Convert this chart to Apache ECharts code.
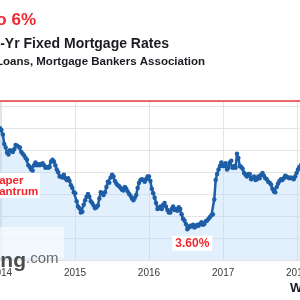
<!DOCTYPE html>
<html>
<head>
<meta charset="utf-8">
<script src="https://cdn.jsdelivr.net/npm/echarts@6/dist/echarts.min.js"></script>
<style>
  html, body { margin: 0; padding: 0; background: #fff; }
  #chart { width: 300px; height: 300px; }
</style>
</head>
<body>
<div id="chart"></div>
<script>
// weekly 30-yr fixed rates (%), one value per week starting 2013-12-27
var firstWeek = Date.UTC(2013, 11, 27);
var rates2013 = [4.75];
var rates2014 = [
  4.73, 4.68, 4.57, 4.53, 4.47,
  4.45, 4.50, 4.49, 4.48,
  4.51, 4.56, 4.55, 4.54,
  4.53, 4.48, 4.46, 4.44,
  4.41, 4.39, 4.33, 4.31, 4.28,
  4.27, 4.33, 4.36, 4.33,
  4.34, 4.33, 4.34, 4.35,
  4.33, 4.30, 4.31, 4.30, 4.31,
  4.37, 4.39, 4.37, 4.33,
  4.28, 4.25, 4.20, 4.20, 4.19,
  4.22, 4.18, 4.16, 4.18,
  4.15, 4.10, 4.07, 4.02
];
var rates2015 = [
  4.01, 3.92, 3.86, 3.84, 3.79,
  3.80, 3.88, 3.93, 3.97,
  4.00, 3.97, 3.92, 3.90,
  3.87, 3.84, 3.85, 3.87,
  3.95, 4.02, 4.01, 3.99, 4.02,
  4.08, 4.14, 4.13, 4.19,
  4.22, 4.20, 4.15, 4.12, 4.10,
  4.09, 4.07, 4.05, 4.04,
  4.08, 4.06, 4.03, 4.00,
  3.98, 3.95, 3.93, 3.96, 3.99,
  4.07, 4.13, 4.16, 4.17,
  4.16, 4.14, 4.17, 4.20
];
var rates2016 = [
  4.20, 4.15, 4.06, 4.01, 3.96,
  3.90, 3.83, 3.84, 3.86,
  3.83, 3.88, 3.90, 3.86,
  3.82, 3.79, 3.79, 3.83, 3.86,
  3.82, 3.83, 3.81, 3.85,
  3.83, 3.77, 3.72, 3.70,
  3.66, 3.60, 3.62, 3.64, 3.63,
  3.65, 3.62, 3.63, 3.65,
  3.64, 3.66, 3.68, 3.65, 3.66,
  3.69, 3.70, 3.72, 3.74,
  3.76, 3.77, 3.94, 4.16,
  4.23, 4.28, 4.32, 4.36, 4.32
];
var rates2017 = [
  4.32, 4.35, 4.28, 4.30,
  4.36, 4.38, 4.30, 4.32,
  4.30, 4.46, 4.41, 4.32, 4.31,
  4.29, 4.24, 4.22, 4.20,
  4.23, 4.23, 4.17, 4.19,
  4.20, 4.16, 4.17, 4.20, 4.18,
  4.22, 4.24, 4.21, 4.18,
  4.17, 4.14, 4.13, 4.11,
  4.06, 4.03, 4.02, 4.08, 4.12,
  4.15, 4.17, 4.16, 4.18,
  4.21, 4.20, 4.19, 4.18,
  4.19, 4.18, 4.17, 4.20, 4.24
];
var rates2018 = [4.28, 4.31, 4.35];

var yMin = 3.25;
var yTop = 5.06;   // red line at the top of the plot
var lowText = '3.60%';
var taperText = 'Taper\nTantrum';

var rates = [].concat(rates2013, rates2014, rates2015, rates2016, rates2017, rates2018);
var seriesData = [];
for (var i = 0; i < rates.length; i++) {
  seriesData.push([firstWeek + i * 7 * 86400000, rates[i]]);
}

var chart = echarts.init(document.getElementById('chart'));

var option = {
  animation: false,
  grid: { left: 0, right: 0, top: 101, bottom: 40, containLabel: false, outerBoundsMode: 'none' },
  xAxis: {
    type: 'time',
    min: Date.UTC(2013, 11, 27),
    max: Date.UTC(2018, 0, 15),
    splitNumber: 4,
    axisLine: { show: true, lineStyle: { color: '#e2e2e2' } },
    axisTick: { show: false },
    splitLine: { show: true, lineStyle: { color: '#e4e4e4', width: 1 } },
    axisLabel: {
      color: '#3a3a3a',
      fontSize: 10,
      fontFamily: 'Liberation Sans, Arial, sans-serif',
      margin: 8,
      hideOverlap: false,
      formatter: function (v) { return String(new Date(v).getUTCFullYear()); }
    }
  },
  yAxis: {
    type: 'value',
    min: yMin,
    max: yTop,
    interval: 0.25,
    axisLabel: { show: false },
    axisLine: { show: false },
    axisTick: { show: false },
    splitLine: { show: true, lineStyle: { color: '#e4e4e4', width: 1 } }
  },
  series: [{
    type: 'line',
    data: seriesData,
    symbol: 'circle',
    symbolSize: 4.5,
    showAllSymbol: true,
    lineStyle: { color: '#1d5ea6', width: 2.5 },
    itemStyle: { color: '#1d5ea6' },
    areaStyle: { color: 'rgba(180,213,250,0.55)', origin: 'start' },
    markLine: {
      silent: true,
      symbol: 'none',
      label: { show: false },
      lineStyle: { color: '#e8393c', width: 1.5, type: 'solid' },
      data: [{ yAxis: yTop }]
    },
    markPoint: {
      symbolSize: 0,
      data: [{ type: 'min' }],
      label: {
        show: true,
        formatter: lowText,
        offset: [5, 14],
        color: '#ee2a2f',
        fontWeight: 'bold',
        fontSize: 12,
        fontFamily: 'Liberation Sans, Arial, sans-serif',
        backgroundColor: '#fff',
        padding: [2, 3, 1, 3]
      }
    }
  }],
  graphic: [
    { type: 'text', x: 36, y: 20,
      style: { text: 'to 6%', align: 'right', verticalAlign: 'middle',
        font: 'bold 17px "Liberation Sans", Arial, sans-serif', fill: '#f0262e' } },
    { type: 'text', x: 169, y: 44,
      style: { text: '30-Yr Fixed Mortgage Rates', align: 'right', verticalAlign: 'middle',
        font: 'bold 14px "Liberation Sans", Arial, sans-serif', fill: '#1b1b22' } },
    { type: 'text', x: 205, y: 62,
      style: { text: 'Conforming Loans, Mortgage Bankers Association', align: 'right', verticalAlign: 'middle',
        font: 'bold 11.5px "Liberation Sans", Arial, sans-serif', fill: '#1b1b22' } },
    // watermark
    { type: 'rect', shape: { x: 0, y: 227, width: 64, height: 31 },
      style: { fill: 'rgba(255,255,255,0.6)' }, z: 10 },
    { type: 'text', x: 26, y: 251, z: 11,
      style: { text: 'ing', align: 'right', verticalAlign: 'alphabetic',
        font: 'bold 21px "Liberation Sans", Arial, sans-serif', fill: '#4c4c4c' } },
    { type: 'text', x: 26, y: 251, z: 11,
      style: { text: '.com', align: 'left', verticalAlign: 'alphabetic',
        font: '15px "Liberation Sans", Arial, sans-serif', fill: '#6a6a6a' } },
    // taper tantrum note
    { type: 'rect', shape: { x: 0, y: 173, width: 40, height: 25 },
      style: { fill: '#fff' }, z: 10 },
    { type: 'text', x: -7, y: 175, z: 11,
      style: { text: taperText, align: 'left', verticalAlign: 'top', lineHeight: 11.5,
        font: 'bold 11.5px "Liberation Sans", Arial, sans-serif', fill: '#f0262e' } },
    { type: 'text', x: 290, y: 288,
      style: { text: 'Wolf', align: 'left', verticalAlign: 'middle',
        font: 'bold 13px "Liberation Sans", Arial, sans-serif', fill: '#1b1b22' } }
  ]
};

chart.setOption(option);
</script>
</body>
</html>
